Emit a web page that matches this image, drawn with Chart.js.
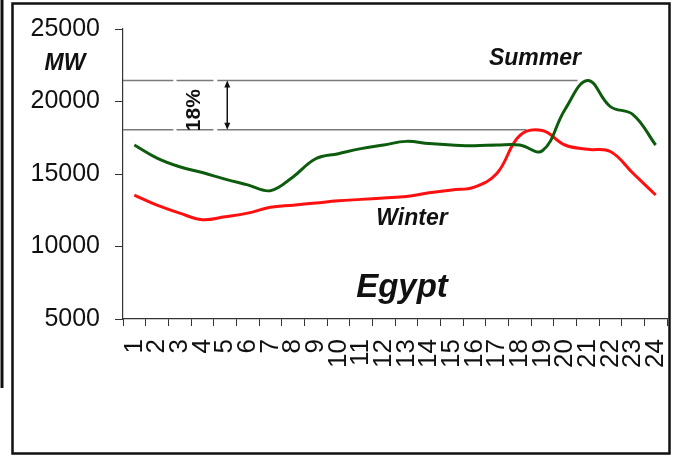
<!DOCTYPE html>
<html>
<head>
<meta charset="utf-8">
<script src="https://cdn.jsdelivr.net/npm/chart.js@4"></script>
<style>
  html, body { margin: 0; padding: 0; background: #fff; }
  #wrap { width: 678px; height: 459px; position: relative; }
</style>
</head>
<body>
<div id="wrap"><canvas id="c" width="678" height="459"></canvas></div>
<script>
// ---- data ----
const hours = ['1','2','3','4','5','6','7','8','9','10','11','12','13','14','15','16','17','18','19','20','21','22','23','24'];
const summer = [17000, 16100, 15500, 15100, 14650, 14250, 13850, 14800, 16050, 16400, 16750, 17000, 17250, 17100, 17000, 16950, 17000, 17000, 16600, 19450, 21450, 19650, 19100, 17000];
const winter = [13550, 12850, 12300, 11850, 12050, 12300, 12700, 12850, 13000, 13150, 13250, 13350, 13450, 13700, 13900, 14100, 15050, 17650, 18000, 17000, 16700, 16550, 15050, 13550];
const yTicks = [5000, 10000, 15000, 20000, 25000];
// reference levels (summer peak, winter peak) and the hour where each guide line ends
const refValues = [21450, 18050];
const refEndHours = [20.55, 18.3];
const refGapHours = [[2.72, 2.86], [4.49, 4.66]];
const refLabel = '18%';
const refLabelHour = 3.65;
const refArrowHour = 5.1;

const annotate = {
  id: 'annotate',
  beforeDatasetsDraw(chart) {
    const ctx = chart.ctx, x = chart.scales.x, y = chart.scales.y;
    const hx = h => x.getPixelForValue(h - 1);
    ctx.save();
    ctx.strokeStyle = '#7a7a7a';
    ctx.lineWidth = 1.5;
    refValues.forEach((v, i) => {
      const py = y.getPixelForValue(v);
      const pts = [chart.chartArea.left];
      refGapHours.forEach(g => { pts.push(hx(g[0]), hx(g[1])); });
      pts.push(hx(refEndHours[i]));
      for (let k = 0; k < pts.length; k += 2) {
        ctx.beginPath();
        ctx.moveTo(pts[k], py);
        ctx.lineTo(pts[k + 1], py);
        ctx.stroke();
      }
    });
    // arrow
    const ax = hx(refArrowHour);
    const y1 = y.getPixelForValue(refValues[0]), y2 = y.getPixelForValue(refValues[1]);
    ctx.strokeStyle = '#111';
    ctx.fillStyle = '#111';
    ctx.lineWidth = 1.5;
    ctx.beginPath(); ctx.moveTo(ax, y1 + 3); ctx.lineTo(ax, y2 - 3); ctx.stroke();
    ctx.beginPath(); ctx.moveTo(ax, y1); ctx.lineTo(ax - 3, y1 + 7); ctx.lineTo(ax + 3, y1 + 7); ctx.closePath(); ctx.fill();
    ctx.beginPath(); ctx.moveTo(ax, y2); ctx.lineTo(ax - 3, y2 - 7); ctx.lineTo(ax + 3, y2 - 7); ctx.closePath(); ctx.fill();
    // 18% label
    ctx.translate(hx(refLabelHour), (y1 + y2) / 2 + 5);
    ctx.rotate(-Math.PI / 2);
    ctx.font = 'bold 21px "Liberation Sans", Arial, sans-serif';
    ctx.textAlign = 'center';
    ctx.textBaseline = 'middle';
    ctx.fillText(refLabel, 0, 0);
    ctx.restore();
  },
  afterDraw(chart) {
    const ctx = chart.ctx;
    ctx.save();
    // frame
    ctx.strokeStyle = '#111';
    ctx.lineWidth = 2.5;
    ctx.strokeRect(12.5, 3.5, 657, 450);
    ctx.lineWidth = 3;
    ctx.beginPath(); ctx.moveTo(2, 0); ctx.lineTo(2, 388); ctx.stroke();
    // texts
    ctx.fillStyle = '#111';
    ctx.textAlign = 'center';
    ctx.textBaseline = 'middle';
    ctx.font = 'italic bold 23px "Liberation Sans", Arial, sans-serif';
    ctx.fillText('MW', 65, 64);
    ctx.fillText('Summer', 535, 59);
    ctx.fillText('Winter', 412, 219);
    ctx.font = 'italic bold 33px "Liberation Sans", Arial, sans-serif';
    ctx.fillText('Egypt', 402, 288);
    ctx.restore();
  }
};

new Chart(document.getElementById('c'), {
  type: 'line',
  data: {
    labels: hours,
    datasets: [
      { label: 'Summer', data: summer, borderColor: '#0d5c0d', borderWidth: 3, pointRadius: 0, tension: 0.4, fill: false },
      { label: 'Winter', data: winter, borderColor: '#ff1010', borderWidth: 3, pointRadius: 0, tension: 0.4, fill: false }
    ]
  },
  options: {
    responsive: false,
    animation: false,
    devicePixelRatio: 1,
    layout: { padding: { left: 0, top: 29, right: 11, bottom: 0 } },
    plugins: { legend: { display: false }, tooltip: { enabled: false } },
    scales: {
      x: {
        type: 'category',
        offset: true,
        grid: { offset: true, drawOnChartArea: false, drawTicks: true, tickLength: 7, color: '#333', lineWidth: 1 },
        border: { display: true, color: '#333', width: 1.2 },
        ticks: {
          autoSkip: false, maxRotation: 90, minRotation: 90, padding: 13,
          color: '#111', font: { family: '"Liberation Sans", Arial, sans-serif', size: 26 }
        },
        afterFit(s) { s.height = 140; s.paddingLeft = 0; s.paddingRight = 0; }
      },
      y: {
        min: 5000, max: 25000,
        afterBuildTicks(s) { s.ticks = yTicks.map(v => ({ value: v })); },
        grid: { drawOnChartArea: false, drawTicks: true, tickLength: 8, color: '#333', lineWidth: 1 },
        border: { display: true, color: '#333', width: 1.2 },
        ticks: {
          padding: 15, color: '#111',
          font: { family: '"Liberation Sans", Arial, sans-serif', size: 25 },
          callback: v => String(v)
        },
        afterFit(s) { s.width = 123; s.paddingTop = 0; s.paddingBottom = 0; }
      }
    }
  },
  plugins: [annotate]
});
</script>
</body>
</html>
